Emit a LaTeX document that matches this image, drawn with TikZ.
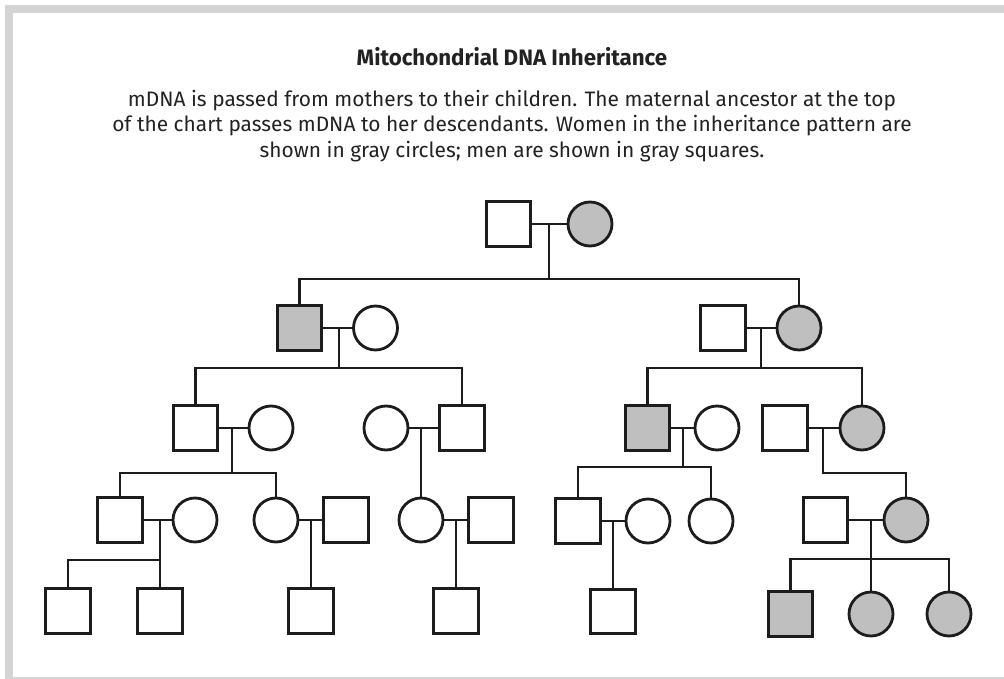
\documentclass[tikz,border=0pt]{standalone}
\usepackage{fontspec}
\setmainfont{Fira Sans}
\usetikzlibrary{calc}
\definecolor{framegray}{RGB}{212,212,212}
\definecolor{fillgray}{RGB}{191,191,191}
\definecolor{inkc}{RGB}{28,28,28}
\definecolor{textc}{RGB}{34,34,34}
\tikzset{
  male/.style={draw=inkc, line width=2.8pt, rectangle, minimum size=44.5pt, inner sep=0pt, fill=white},
  female/.style={draw=inkc, line width=2.8pt, circle, minimum size=44pt, inner sep=0pt, fill=white},
  carrier/.style={fill=fillgray},
  link/.style={draw=inkc, line width=2.8pt, line cap=rect, line join=miter},
  titletext/.style={font=\fontsize{22.3}{26}\selectfont\bfseries, text=textc, anchor=base, inner sep=0pt},
  bodytext/.style={font=\fontsize{20.9}{25}\selectfont, text=textc, anchor=base, inner sep=0pt}
}
\begin{document}
\begin{tikzpicture}[x=1pt,y=-1pt]
\useasboundingbox (0,0) rectangle (1004,679);
% frame
\fill[framegray] (5,5) rectangle (1004,13);
\fill[framegray] (5,5) rectangle (13,679);
\fill[framegray] (13,677) rectangle (1004,679);
% texts
\node[titletext] (title) at (512,66) {Mitochondrial DNA Inheritance};
\node[bodytext] (l1) at (512,107) {mDNA is passed from mothers to their children. The maternal ancestor at the top};
\node[bodytext] (l2) at (512,132) {of the chart passes mDNA to her descendants. Women in the inheritance pattern are};
\node[bodytext] (l3) at (512,158) {shown in gray circles; men are shown in gray squares.};

% generation 1
\node[male] (g1m) at (508.5,224) {};
\node[female,carrier] (g1f) at (590,224) {};
% generation 2
\node[male,carrier] (g2a) at (299.5,328) {};
\node[female] (g2b) at (375.5,328) {};
\node[male] (g2c) at (723,328) {};
\node[female,carrier] (g2d) at (799,328) {};
% generation 3
\node[male] (g3a) at (195.5,428) {};
\node[female] (g3b) at (271,428) {};
\node[female] (g3c) at (386,428) {};
\node[male] (g3d) at (462,428) {};
\node[male,carrier] (g3e) at (647.5,428) {};
\node[female] (g3f) at (717,428) {};
\node[male] (g3g) at (785,428) {};
\node[female,carrier] (g3h) at (862,428) {};
% generation 4
\node[male] (g4a) at (120,520) {};
\node[female] (g4b) at (195,520) {};
\node[female] (g4c) at (276,520) {};
\node[male] (g4d) at (346,520) {};
\node[female] (g4e) at (421,520) {};
\node[male] (g4f) at (491,520) {};
\node[male] (g4g) at (578,521) {};
\node[female] (g4h) at (648,521) {};
\node[female] (g4i) at (711,521) {};
\node[male] (g4j) at (825.5,520) {};
\node[female,carrier] (g4k) at (906,520) {};
% generation 5
\node[male] (g5a) at (68,611) {};
\node[male] (g5b) at (160,611) {};
\node[male] (g5c) at (311,611) {};
\node[male] (g5d) at (456,611) {};
\node[male] (g5e) at (613,611.5) {};
\node[male,carrier] (g5f) at (790.5,614) {};
\node[female,carrier] (g5g) at (871,614) {};
\node[female,carrier] (g5h) at (949,614) {};

% marriage points
\coordinate (m1) at (549,224);
\coordinate (m2a) at (339,328);
\coordinate (m2b) at (761,328);
\coordinate (m3a) at (232,428);
\coordinate (m3b) at (421,428);
\coordinate (m3c) at (683,428);
\coordinate (m3d) at (823,428);
\coordinate (m4a) at (160,520);
\coordinate (m4b) at (311,520);
\coordinate (m4c) at (456,520);
\coordinate (m4d) at (613,521);
\coordinate (m4e) at (871,520);
% sibling bar points
\coordinate (b1) at (549,279);
\coordinate (b2a) at (339,368);
\coordinate (b2b) at (761,368);
\coordinate (b3a) at (232,473);
\coordinate (b3c) at (683,467);
\coordinate (b3d) at (823,473);
\coordinate (b4a) at (160,560);
\coordinate (b4e) at (871,559);

% marriage lines
\draw[link] (g1m.east) -- (g1f.west);
\draw[link] (g2a.east) -- (g2b.west);
\draw[link] (g2c.east) -- (g2d.west);
\draw[link] (g3a.east) -- (g3b.west);
\draw[link] (g3c.east) -- (g3d.west);
\draw[link] (g3e.east) -- (g3f.west);
\draw[link] (g3g.east) -- (g3h.west);
\draw[link] (g4a.east) -- (g4b.west);
\draw[link] (g4c.east) -- (g4d.west);
\draw[link] (g4e.east) -- (g4f.west);
\draw[link] (g4g.east) -- (g4h.west);
\draw[link] (g4j.east) -- (g4k.west);
% descent
\draw[link] (m1) -- (b1);
\draw[link] (g2a.north) |- (b1);
\draw[link] (g2d.north) |- (b1);
\draw[link] (m2a) -- (b2a);
\draw[link] (g3a.north) |- (b2a);
\draw[link] (g3d.north) |- (b2a);
\draw[link] (m2b) -- (b2b);
\draw[link] (g3e.north) |- (b2b);
\draw[link] (g3h.north) |- (b2b);
\draw[link] (m3a) -- (b3a);
\draw[link] (g4a.north) |- (b3a);
\draw[link] (g4c.north) |- (b3a);
\draw[link] (m3b) -- (m3b |- g4e.north);
\draw[link] (m3c) -- (b3c);
\draw[link] (g4g.north) |- (b3c);
\draw[link] (g4i.north) |- (b3c);
\draw[link] (m3d) -- (b3d);
\draw[link] (g4k.north) |- (b3d);
\draw[link] (m4a) -- (m4a |- g5b.north);
\draw[link] (g5a.north) |- (b4a);
\draw[link] (m4b) -- (m4b |- g5c.north);
\draw[link] (m4c) -- (m4c |- g5d.north);
\draw[link] (m4d) -- (m4d |- g5e.north);
\draw[link] (m4e) -- (m4e |- g5g.north);
\draw[link] (g5f.north) |- (b4e);
\draw[link] (g5h.north) |- (b4e);
\end{tikzpicture}
\end{document}
